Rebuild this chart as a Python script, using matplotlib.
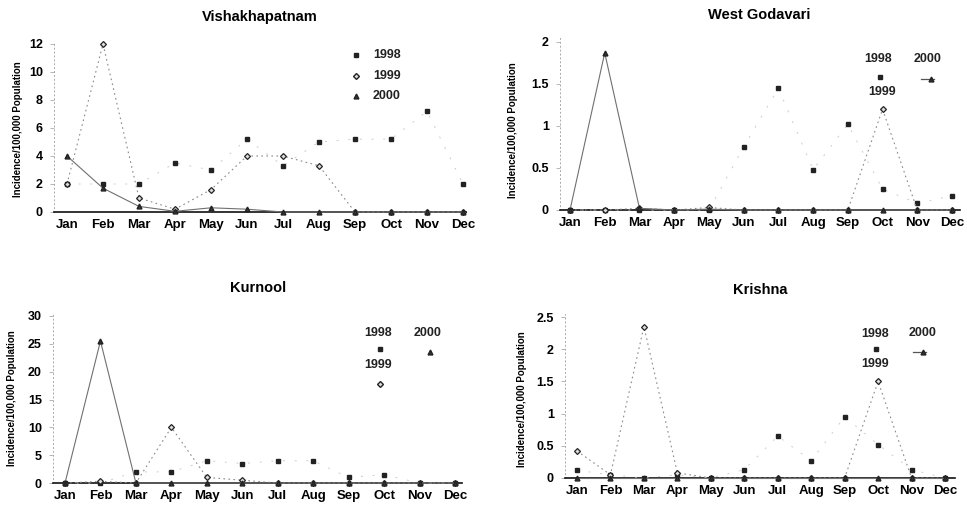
import matplotlib
matplotlib.use("Agg")
import matplotlib.pyplot as plt
from matplotlib.lines import Line2D

plt.rcParams['font.family'] = ['Liberation Sans', 'DejaVu Sans']

W, H = 967, 507

months = ['Jan', 'Feb', 'Mar', 'Apr', 'May', 'Jun',
          'Jul', 'Aug', 'Sep', 'Oct', 'Nov', 'Dec']
years = ['1998', '1999', '2000']

# values (incidence per 100,000 population)
vish_1998 = [2, 2, 2, 3.5, 3, 5.2, 3.3, 5, 5.2, 5.2, 7.2, 2]
vish_1999 = [2, 12, 1, 0.2, 1.6, 4, 4, 3.3, 0, 0, 0, 0]
vish_2000 = [4, 1.7, 0.4, 0.05, 0.3, 0.2, 0, 0, 0, 0, 0, 0]

wg_1998 = [0, 0, 0, 0, 0, 0.75, 1.45, 0.48, 1.02, 0.25, 0.08, 0.17]
wg_1999 = [0, 0, 0.02, 0, 0.03, 0, 0, 0, 0, 1.2, 0, 0]
wg_2000 = [0, 1.87, 0.02, 0, 0.01, 0, 0, 0, 0, 0, 0, 0]

kur_1998 = [0, 0, 2, 2, 4, 3.5, 4, 4, 1, 1.5, 0, 0]
kur_1999 = [0, 0.3, 0, 10, 1, 0.5, 0, 0, 0, 0, 0, 0]
kur_2000 = [0, 25.5, 0, 0, 0, 0, 0, 0, 0, 0, 0, 0]

kri_1998 = [0.12, 0.05, 0, 0.05, 0, 0.13, 0.65, 0.27, 0.95, 0.52, 0.13, 0]
kri_1999 = [0.42, 0.05, 2.35, 0.08, 0, 0, 0, 0, 0, 1.5, 0, 0]
kri_2000 = [0, 0, 0, 0, 0, 0, 0, 0, 0, 0, 0, 0]

vish_ticks = [0, 2, 4, 6, 8, 10, 12]
wg_ticks = [0, 0.5, 1, 1.5, 2]
kur_ticks = [0, 5, 10, 15, 20, 25, 30]
kri_ticks = [0, 0.5, 1, 1.5, 2, 2.5]

styles = {
    '1998': dict(marker='s', ms=3.2, mfc='#222222', mec='#222222',
                 ls=(0, (2, 10)), color='#cccccc', lw=0.7),
    '1999': dict(marker='D', ms=3.0, mfc='#dddddd', mec='#222222', mew=0.9,
                 ls=(0, (1.5, 3)), color='#8a8a8a', lw=0.8),
    '2000': dict(marker='^', ms=3.5, mfc='#333333', mec='#222222',
                 ls='-', color='#707070', lw=0.8),
}


def fx(px):
    return px / W


def fy(py):
    return 1 - py / H


def make_axes(fig, left, jan, dec, right, y0, ytop, ytop_val, yhi):
    ppu = (dec - jan) / 11
    xmin = -(jan - left) / ppu
    xmax = 11 + (right - dec) / ppu
    yppu = (y0 - ytop) / ytop_val
    ax = fig.add_axes([fx(left), (H - y0) / H, (right - left) / W, yhi * yppu / H])
    ax.set_xlim(xmin, xmax)
    ax.set_ylim(0, yhi)
    return ax


def style_axes(ax, ticks):
    for s in ['top', 'right']:
        ax.spines[s].set_visible(False)
    ax.spines['bottom'].set_linewidth(1.2)
    ax.spines['bottom'].set_color('#111111')
    ax.spines['left'].set_linestyle((0, (1, 3)))
    ax.spines['left'].set_color('#aaaaaa')
    ax.spines['left'].set_linewidth(0.7)
    ax.set_xticks(range(12))
    ax.set_xticklabels(months, fontsize=9.5, fontweight='bold')
    ax.tick_params(axis='x', length=0, pad=5)
    ax.set_yticks(ticks)
    ax.set_yticklabels(['%g' % t for t in ticks], fontsize=9, fontweight='bold')
    ax.tick_params(axis='y', length=3, width=0.6, color='#aaaaaa', pad=5)


def draw_series(ax, series):
    x = list(range(12))
    for yr, vals in zip(years, series):
        ax.plot(x, vals, clip_on=False, zorder=3, **styles[yr])


def legend_key(fig, yr, px, py, with_line=False):
    st = styles[yr]
    if with_line:
        fig.add_artist(Line2D([fx(px - 10), fx(px + 3)], [fy(py)] * 2,
                              transform=fig.transFigure,
                              ls='-', color='#555555', lw=0.9))
    fig.add_artist(Line2D([fx(px)], [fy(py)], transform=fig.transFigure,
                          ls='none', marker=st['marker'], ms=st['ms'],
                          mfc=st['mfc'], mec=st['mec']))


def legend_text(fig, s, px, py):
    fig.text(fx(px), fy(py), s, ha='center', va='center',
             fontsize=9, fontweight='bold', color='#222222')


fig = plt.figure(figsize=(W / 100, H / 100), dpi=100)

ylabel = 'Incidence/100,000 Population'

# Vishakhapatnam
ax1 = make_axes(fig, 54, 67, 463, 466, 212, 44, 12, 12.2)
draw_series(ax1, [vish_1998, vish_1999, vish_2000])
style_axes(ax1, vish_ticks)
fig.text(fx(260), fy(17), 'Vishakhapatnam', ha='center', va='center',
         fontsize=10.5, fontweight='bold')
fig.text(fx(18), fy(129), ylabel, rotation=90, ha='center', va='center',
         fontsize=7, fontweight='bold')
for yr, py in zip(years, [55, 76, 96]):
    legend_key(fig, yr, 356, py)
    fig.text(fx(373), fy(py), yr, ha='left', va='center',
             fontsize=9, fontweight='bold', color='#222222')

# West Godavari (the 1999 key is the Oct data point itself)
ax2 = make_axes(fig, 560, 570, 952, 960, 210, 42, 2, 2.05)
draw_series(ax2, [wg_1998, wg_1999, wg_2000])
style_axes(ax2, wg_ticks)
fig.text(fx(759), fy(15), 'West Godavari', ha='center', va='center',
         fontsize=10.5, fontweight='bold')
fig.text(fx(513), fy(130), ylabel, rotation=90, ha='center', va='center',
         fontsize=7, fontweight='bold')
legend_text(fig, '1998', 878, 59)
legend_key(fig, '1998', 880, 77)
legend_text(fig, '1999', 882, 92)
legend_text(fig, '2000', 928, 59)
legend_key(fig, '2000', 931, 79, with_line=True)

# Kurnool
ax3 = make_axes(fig, 53, 65, 455, 462, 483, 316, 30, 30.5)
draw_series(ax3, [kur_1998, kur_1999, kur_2000])
style_axes(ax3, kur_ticks)
fig.text(fx(258), fy(288), 'Kurnool', ha='center', va='center',
         fontsize=10.5, fontweight='bold')
fig.text(fx(12), fy(398), ylabel, rotation=90, ha='center', va='center',
         fontsize=7, fontweight='bold')
legend_text(fig, '1998', 378, 333)
legend_key(fig, '1998', 380, 349)
legend_text(fig, '1999', 378, 365)
legend_key(fig, '1999', 380, 384)
legend_text(fig, '2000', 428, 333)
legend_key(fig, '2000', 430, 352)

# Krishna (the 1999 key is the Oct data point itself)
ax4 = make_axes(fig, 565, 577, 945, 955, 478, 317, 2.5, 2.55)
draw_series(ax4, [kri_1998, kri_1999, kri_2000])
style_axes(ax4, kri_ticks)
fig.text(fx(760), fy(290), 'Krishna', ha='center', va='center',
         fontsize=10.5, fontweight='bold')
fig.text(fx(522), fy(399), ylabel, rotation=90, ha='center', va='center',
         fontsize=7, fontweight='bold')
legend_text(fig, '1998', 875, 334)
legend_key(fig, '1998', 876, 349)
legend_text(fig, '1999', 875, 364)
legend_text(fig, '2000', 923, 333)
legend_key(fig, '2000', 923, 352, with_line=True)

fig.savefig('out.png', dpi=100)
